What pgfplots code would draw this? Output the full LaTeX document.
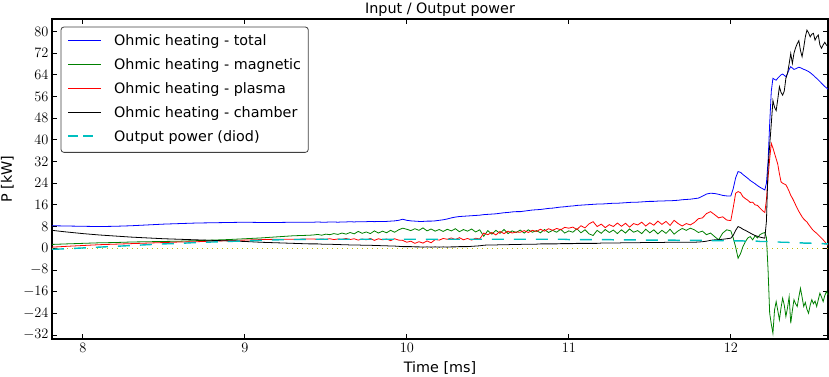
\documentclass[border=0pt]{standalone}
\usepackage{fontspec}
\setmainfont{DejaVu Sans}
\usepackage{pgfplots}
\usepackage{pgfplotstable}
\pgfplotsset{compat=1.18}
\definecolor{mplgreen}{rgb}{0,0.5,0}
\definecolor{mplcyan}{rgb}{0,0.75,0.75}
\definecolor{mplyellow}{rgb}{0.75,0.75,0}
\newcommand{\legsample}[1]{\textcolor{#1}{\rule[4.8bp]{33bp}{0.8bp}}\hspace{13bp}}
\newcommand{\legdash}{\textcolor{mplcyan}{\rule[4.5bp]{10bp}{1.4bp}\hspace{5bp}\rule[4.5bp]{10bp}{1.4bp}}\hspace{21bp}}

\pgfplotstableread{
t tot mag pla cha dio
7.81 8.3 1.4 0.4 6.6 -0.4
7.9 8.2 1.6 0.7 6.0 -0.2
8.0 8.1 1.8 1.0 5.4 0.1
8.1 8.0 2.0 1.3 4.9 0.4
8.2 8.1 2.1 1.5 4.5 0.7
8.3 8.3 2.3 1.7 4.1 1.0
8.4 8.6 2.4 1.9 3.8 1.3
8.5 8.9 2.5 2.1 3.5 1.6
8.6 9.1 2.6 2.3 3.3 1.8
8.7 9.3 2.8 2.4 3.1 2.1
8.8 9.4 3.0 2.6 2.9 2.3
8.9 9.5 3.2 2.8 2.7 2.5
9.0 9.6 3.5 3.0 2.5 2.7
9.1 9.5 3.8 3.2 2.2 2.9
9.2 9.5 4.2 3.3 2.0 3.1
9.3 9.6 4.6 3.3 1.8 3.2
9.4 9.6 4.8 3.4 1.6 3.3
9.425 9.6 4.9 3.4 1.6 3.3
9.45 9.7 5.1 3.3 1.6 3.3
9.475 9.6 4.8 3.4 1.5 3.3
9.5 9.6 5.2 3.3 1.5 3.3
9.525 9.7 5.0 3.5 1.5 3.3
9.55 9.7 5.4 3.2 1.4 3.3
9.575 9.6 5.1 3.4 1.4 3.3
9.6 9.7 5.6 3.3 1.3 3.3
9.625 9.7 5.2 3.6 1.3 3.3
9.65 9.8 5.8 3.2 1.2 3.3
9.675 9.7 5.3 3.5 1.2 3.3
9.7 9.8 6.2 3.0 1.2 3.3
9.725 9.8 5.5 3.4 1.1 3.3
9.75 9.8 6.0 3.1 1.1 3.3
9.775 9.9 5.4 3.6 1.1 3.3
9.8 9.8 6.4 2.9 1.0 3.3
9.825 9.9 5.6 3.5 1.0 3.3
9.85 9.9 6.3 3.1 0.9 3.3
9.875 9.9 5.7 3.4 0.9 3.3
9.9 10.0 6.6 2.8 0.8 3.3
9.925 10.1 5.9 3.5 0.8 3.3
9.95 10.3 6.8 3.0 0.7 3.3
9.975 10.7 7.4 2.9 0.6 3.3
10.0 10.3 7.0 2.2 0.6 3.3
10.025 10.1 6.5 2.6 0.6 3.3
10.05 10.0 7.2 1.8 0.5 3.3
10.075 9.9 6.6 2.4 0.5 3.3
10.1 9.9 7.5 1.9 0.4 3.3
10.125 10.0 6.4 2.7 0.5 3.3
10.15 10.0 7.1 2.0 0.4 3.3
10.175 10.1 6.3 3.2 0.5 3.3
10.2 10.3 6.9 3.0 0.4 3.3
10.225 10.5 6.2 3.6 0.5 3.3
10.25 10.8 7.0 3.3 0.4 3.3
10.275 11.2 6.4 3.8 0.5 3.3
10.3 11.5 7.2 3.2 0.5 3.3
10.325 11.7 6.1 3.9 0.6 3.3
10.35 11.8 6.9 3.1 0.6 3.3
10.375 11.9 6.3 3.6 0.6 3.3
10.4 12.0 7.1 3.0 0.7 3.3
10.425 12.1 6.0 3.7 0.8 3.3
10.45 12.2 6.8 3.4 0.9 3.3
10.475 12.4 4.4 5.6 1.1 3.3
10.5 12.5 6.5 5.0 1.2 3.3
10.525 12.6 5.2 5.8 1.2 3.3
10.55 12.7 6.6 4.9 1.2 3.3
10.575 12.9 5.5 6.2 1.3 3.3
10.6 13.1 6.9 5.4 1.3 3.3
10.625 13.2 5.4 6.3 1.3 3.3
10.65 13.4 6.4 5.6 1.4 3.3
10.675 13.5 5.8 6.0 1.4 3.3
10.7 13.5 6.7 5.9 1.4 3.3
10.725 13.7 5.6 6.5 1.5 3.3
10.75 13.9 6.8 5.8 1.5 3.3
10.775 14.1 5.9 6.6 1.5 3.3
10.8 14.2 6.5 6.2 1.5 3.3
10.825 14.3 5.7 7.0 1.6 3.3
10.85 14.5 6.9 6.3 1.6 3.3
10.875 14.7 5.8 7.2 1.6 3.3
10.9 14.8 6.6 6.6 1.6 3.3
10.925 15.0 5.9 7.3 1.6 3.3
10.95 15.2 7.0 6.8 1.7 3.3
10.975 15.3 5.6 7.7 1.7 3.3
11.0 15.5 6.4 7.4 1.7 3.2
11.025 15.6 5.9 7.8 1.7 3.2
11.05 15.8 7.2 6.9 1.8 3.2
11.075 15.9 5.7 8.3 1.8 3.2
11.1 16.0 6.8 7.5 1.8 3.2
11.125 16.1 5.3 9.0 1.8 3.2
11.15 16.2 4.7 9.8 1.8 3.2
11.175 16.3 6.6 8.0 1.8 3.2
11.2 16.3 5.5 8.9 1.9 3.2
11.225 16.4 6.9 7.6 1.9 3.2
11.25 16.5 5.8 8.7 1.9 3.2
11.275 16.6 6.7 8.0 1.9 3.1
11.3 16.6 5.4 9.3 1.9 3.1
11.325 16.7 6.8 8.1 2.0 3.1
11.35 16.8 5.6 9.2 2.0 3.1
11.375 16.9 7.1 7.8 2.0 3.1
11.4 17.0 5.9 9.1 2.0 3.1
11.425 17.0 6.5 8.6 2.0 3.1
11.45 17.1 5.4 9.6 2.1 3.1
11.475 17.2 7.0 8.2 2.1 3.0
11.5 17.3 5.7 9.4 2.1 3.0
11.525 17.3 6.8 8.5 2.1 3.0
11.55 17.4 5.3 10.0 2.1 3.0
11.575 17.4 6.6 8.8 2.1 3.0
11.6 17.5 5.5 9.9 2.2 3.0
11.625 17.5 7.0 8.4 2.2 3.0
11.65 17.6 5.2 10.3 2.2 3.0
11.675 17.7 6.4 9.1 2.2 2.9
11.7 17.9 7.3 8.2 2.2 2.9
11.725 18.0 6.6 9.1 2.2 2.9
11.75 18.1 7.4 8.6 2.2 2.9
11.775 18.3 6.8 9.5 2.2 2.9
11.8 18.5 5.8 10.9 2.3 2.9
11.825 19.2 6.3 11.2 2.4 2.9
11.85 20.0 5.0 12.8 2.6 2.8
11.875 20.3 5.6 13.5 2.9 2.8
11.9 20.2 4.3 12.4 3.1 2.8
11.925 19.9 3.1 11.2 3.2 2.8
11.95 19.5 5.6 11.6 3.3 2.8
11.975 19.3 6.8 10.4 3.5 2.7
12.0 19.3 6.4 10.2 3.7 2.7
12.015 22.0 3.8 15.0 4.8 2.7
12.03 26.0 0.4 20.3 6.6 2.7
12.045 28.3 -3.7 20.9 8.0 2.7
12.06 28.0 -2.0 20.5 7.6 2.7
12.075 27.2 0.6 19.0 7.0 2.7
12.09 26.5 2.4 18.3 6.6 2.6
12.105 25.8 3.8 17.7 6.1 2.6
12.12 25.0 4.3 16.9 5.6 2.6
12.135 24.4 3.1 17.0 5.1 2.6
12.15 23.8 4.6 16.0 4.7 2.6
12.165 23.1 3.8 15.8 4.4 2.6
12.18 22.5 5.0 14.8 4.1 2.5
12.195 22.0 5.5 13.9 3.9 2.5
12.21 21.5 5.8 13.2 3.7 2.5
12.22 24.0 4.0 18.0 10.0 2.5
12.23 32.0 -8.0 26.0 30.0 2.5
12.24 46.0 -24.0 33.0 38.0 2.4
12.25 58.0 -28.0 38.7 46.0 2.4
12.26 62.7 -31.4 37.0 54.5 2.4
12.27 62.3 -22.8 35.0 52.0 2.3
12.28 62.0 -19.7 33.0 50.8 2.3
12.29 62.8 -23.0 31.0 55.0 2.3
12.3 63.4 -26.4 27.5 59.6 2.3
12.31 64.0 -22.0 24.5 57.5 2.2
12.32 64.3 -18.4 24.0 56.5 2.2
12.33 63.8 -21.0 23.7 58.0 2.2
12.34 63.3 -25.2 23.4 62.7 2.2
12.35 64.5 -22.0 22.3 64.5 2.2
12.36 66.0 -17.9 21.0 68.0 2.1
12.37 67.0 -27.7 19.5 71.9 2.1
12.38 66.5 -23.0 18.5 68.2 2.1
12.39 66.0 -19.0 17.3 72.0 2.1
12.4 66.2 -20.5 16.0 74.0 2.0
12.41 66.5 -21.5 14.8 75.5 2.0
12.42 66.8 -18.0 13.6 76.6 2.0
12.43 66.6 -14.8 12.6 73.0 2.0
12.44 66.3 -18.0 11.6 70.7 2.0
12.45 66.0 -21.5 10.8 74.0 1.9
12.46 65.8 -20.0 10.2 78.0 1.9
12.47 65.5 -22.5 9.7 80.5 1.9
12.48 65.2 -24.0 8.8 79.5 1.9
12.49 64.8 -21.0 8.0 78.0 1.9
12.5 64.3 -19.0 7.2 79.0 1.8
12.51 63.8 -20.5 6.5 79.3 1.8
12.52 63.2 -19.5 6.0 76.8 1.8
12.53 62.7 -21.5 5.5 78.0 1.8
12.54 62.1 -19.0 4.9 78.7 1.7
12.55 61.5 -16.6 4.3 75.0 1.7
12.56 60.9 -18.0 3.7 73.8 1.7
12.57 60.3 -19.7 3.1 75.0 1.7
12.58 59.7 -17.5 2.4 76.0 1.6
12.59 59.2 -16.0 1.7 75.0 1.6
12.6 58.7 -17.2 1.0 74.5 1.6
}\data

\begin{document}
\begin{tikzpicture}
\begin{axis}[
  scale only axis,
  width=776bp, height=320bp,
  xmin=7.81, xmax=12.6,
  ymin=-33.5, ymax=84.6,
  xtick={8,9,10,11,12},
  ytick={-32,-24,...,80},
  minor tick num=0,
  tick align=inside,
  major tick length=5bp,
  axis line style={line width=1.2bp},
  every tick/.style={black, line width=0.8bp},
  tick label style={font=\fontsize{14}{16}\selectfont},
  xticklabel style={yshift=-1bp},
  every axis title shift=0pt,
  title={Input / Output power},
  title style={font=\fontsize{14.4}{17}\selectfont, at={(axis description cs:0.5,1)}, anchor=south, inner sep=0pt, yshift=2bp},
  xlabel={Time [ms]},
  xlabel style={font=\fontsize{14.4}{17}\selectfont, at={(axis description cs:0.5,0)}, anchor=north, inner sep=0pt, yshift=-22bp},
  ylabel={P [kW]},
  ylabel style={font=\fontsize{14.4}{17}\selectfont, at={([xshift=-38bp]axis description cs:0,0.5)}, anchor=south, inner sep=0pt},
  legend cell align=left,
  legend image code/.code={},
  legend style={name=leg, at={(axis description cs:0,1)}, anchor=north west, xshift=9bp, yshift=-8bp,
    draw=none, fill=white,
    font=\fontsize{14.4}{17}\selectfont,
    inner xsep=7bp, inner ysep=7bp, row sep=9bp,
    nodes={inner sep=0pt, text height=11bp, text depth=4bp}},
]
\coordinate (ll) at (rel axis cs:0,0);
\coordinate (ur) at (rel axis cs:1,1);
\addplot[mplyellow, line width=0.8bp, dash pattern=on 1bp off 4bp, forget plot] coordinates {(7.81,0) (12.6,0)};
\addplot[blue, line width=0.8bp] table[x=t,y=tot]{\data};
\addlegendentry{\legsample{blue}Ohmic heating - total}
\addplot[mplgreen, line width=0.8bp] table[x=t,y=mag]{\data};
\addlegendentry{\legsample{mplgreen}Ohmic heating - magnetic}
\addplot[red, line width=0.8bp] table[x=t,y=pla]{\data};
\addlegendentry{\legsample{red}Ohmic heating - plasma}
\addplot[black, line width=0.8bp] table[x=t,y=cha]{\data};
\addlegendentry{\legsample{black}Ohmic heating - chamber}
\addplot[mplcyan, line width=1.4bp, dash pattern=on 12bp off 10bp] table[x=t,y=dio]{\data};
\addlegendentry{\legdash Output power (diod)}
\end{axis}
\draw[black!75, line width=0.8bp, rounded corners=3bp] (leg.south west) rectangle (leg.north east);
\pgfresetboundingbox
\path ([xshift=-52bp,yshift=-38bp]ll) rectangle ([xshift=1bp,yshift=19bp]ur);
\end{tikzpicture}
\end{document}
